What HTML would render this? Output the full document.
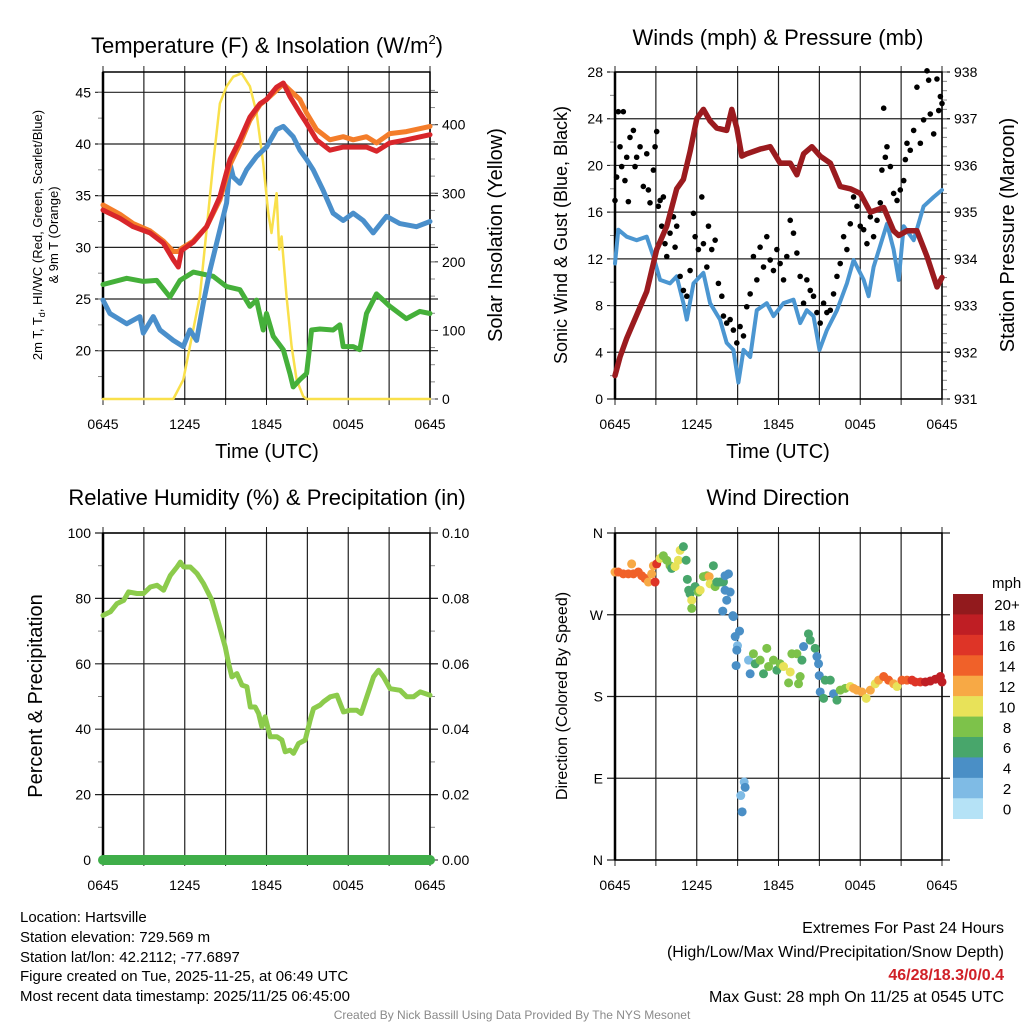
<!DOCTYPE html>
<html><head><meta charset="utf-8">
<style>
html,body{margin:0;padding:0;background:#fff;}
svg{display:block;font-family:"Liberation Sans",Arial,sans-serif;}
</style></head>
<body>
<svg id="fig" width="1024" height="1024" viewBox="0 0 1024 1024" xmlns="http://www.w3.org/2000/svg">
<rect width="1024" height="1024" fill="#fff"/>
<!-- titles -->
<text x="267" y="53" font-size="22" text-anchor="middle">Temperature (F) &amp; Insolation (W/m<tspan font-size="13" dy="-9">2</tspan><tspan dy="9">)</tspan></text>
<text x="778" y="45" font-size="22" text-anchor="middle">Winds (mph) &amp; Pressure (mb)</text>
<text x="267" y="505" font-size="22" text-anchor="middle">Relative Humidity (%) &amp; Precipitation (in)</text>
<text x="778" y="505" font-size="22" text-anchor="middle">Wind Direction</text>
<!-- axis titles -->
<text transform="translate(42,235) rotate(-90)" font-size="13" text-anchor="middle">2m T, T<tspan font-size="9" dy="3">d</tspan><tspan dy="-3">, HI/WC (Red, Green, Scarlet/Blue)</tspan></text>
<text transform="translate(58,235) rotate(-90)" font-size="13" text-anchor="middle">&amp; 9m T (Orange)</text>
<text transform="translate(502,235) rotate(-90)" font-size="20" text-anchor="middle">Solar Insolation (Yellow)</text>
<text x="267" y="458" font-size="20" text-anchor="middle">Time (UTC)</text>
<text transform="translate(567,235) rotate(-90)" font-size="18" text-anchor="middle">Sonic Wind &amp; Gust (Blue, Black)</text>
<text transform="translate(1014,235) rotate(-90)" font-size="20" text-anchor="middle">Station Pressure (Maroon)</text>
<text x="778" y="458" font-size="20" text-anchor="middle">Time (UTC)</text>
<text transform="translate(42,696) rotate(-90)" font-size="20" text-anchor="middle">Percent &amp; Precipitation</text>
<text transform="translate(567,696) rotate(-90)" font-size="16" text-anchor="middle">Direction (Colored By Speed)</text>
<!-- footer -->
<g font-size="15">
<text x="20" y="922">Location: Hartsville</text>
<text x="20" y="942">Station elevation: 729.569 m</text>
<text x="20" y="962">Station lat/lon: 42.2112; -77.6897</text>
<text x="20" y="981">Figure created on Tue, 2025-11-25, at 06:49 UTC</text>
<text x="20" y="1001">Most recent data timestamp: 2025/11/25 06:45:00</text>
</g>
<g font-size="16" text-anchor="end">
<text x="1004" y="933">Extremes For Past 24 Hours</text>
<text x="1004" y="957">(High/Low/Max Wind/Precipitation/Snow Depth)</text>
<text x="1004" y="980" fill="#d02027" font-weight="bold">46/28/18.3/0/0.4</text>
<text x="1004" y="1002">Max Gust: 28 mph On 11/25 at 0545 UTC</text>
</g>
<text x="512" y="1019" font-size="12" fill="#8a8a8a" text-anchor="middle">Created By Nick Bassill Using Data Provided By The NYS Mesonet</text>
</svg>
<script>
// ---------- data ----------
const xTickLabels = ["0645","1245","1845","0045","0645"];
// Panel 1
const redT = [0,1.25,2.22,3.45,4.43,5.16,5.53,5.77,6.63,7.6,8.58,9.32,10.05,10.78,11.52,12,12.74,13.23,13.72,14.45,14.94,15.67,16.65,17.63,18.36,19.34,20.07,21.05,22.27,24];
const redV = [33.6,32.8,32,31.4,30.4,28.8,28.1,29.7,30.5,32,34.9,38.5,40.4,42.6,43.9,44.3,45.5,45.9,44.6,43,42,40.4,39.4,39.7,39.7,39.7,39.3,40.1,40.4,40.9];
const orangeV = [34.1,33.2,32.3,31.6,30.6,29.6,29.6,29.9,30.6,32,34.6,38,40,42.3,43.8,44.3,45.2,45.8,45.2,44.3,43,41.4,40.4,40.7,40.4,40.7,40.1,41,41.2,41.7];
const blueT = [0,0.51,1.74,2.71,2.96,3.69,4.18,5.16,5.89,6.38,6.87,7.36,7.85,8.58,9.07,9.32,9.56,10.05,10.54,11.27,12,12.74,13.23,13.96,14.45,14.94,15.43,16.16,16.89,17.63,18.36,19.1,19.83,20.81,21.78,23.01,24];
const blueV = [24.9,23.6,22.6,23.3,21.7,23.3,22,21,20.4,22,21,24.6,27.8,31.7,34.3,38.1,36.8,36.2,37.5,38.8,39.7,41.4,41.7,40.7,39.4,38.5,37.5,35.5,33.3,32.6,33.3,32.6,31.4,33,32.3,32,32.5];
const greenT = [0,1.74,2.96,3.94,4.91,5.65,6.63,8.09,9.07,10.05,10.78,11.27,11.76,12,12.49,13.23,13.72,13.96,14.45,14.94,15.31,15.92,16.89,17.38,17.63,18.36,18.85,19.34,20.07,21.05,22.27,23.25,24];
const greenV = [26.4,27,26.7,26.8,25.2,26.8,27.6,27.2,26.2,25.9,24.3,24.9,22,23.6,21.4,20.1,17.8,16.5,17.2,17.8,22,22.1,22,22.5,20.4,20.4,20.1,23.6,25.5,24.3,23.1,23.8,23.6];
const solarT = [0,5.16,5.89,7.11,7.6,8.09,8.58,9.07,9.56,10.17,10.78,11.27,11.76,12.13,12.37,12.74,12.93,13.11,13.47,13.84,14.21,14.69,14.94,24];
const solarV = [0,0,28,150,247,344,431,456,470,475,456,417,344,271,242,300,218,237,150,77,28,4,0,0];
// Panel 2
const presT = [0,0.37,0.86,1.59,2.33,3.06,3.8,4.53,5.02,5.51,6,6.49,6.98,7.47,8.2,8.57,8.94,9.31,9.67,10.65,11.39,12.12,12.86,13.35,13.84,14.45,15.06,15.8,16.53,17.27,18,18.74,19.72,20.45,20.82,21.43,22.16,22.9,23.63,24];
const presV = [931.5,931.9,932.3,932.8,933.3,934.2,934.7,935.5,935.7,936.3,937,937.2,936.95,936.8,936.75,937.2,936.8,936.2,936.25,936.35,936.4,936.05,936.05,935.8,936.25,936.4,936.2,936.05,935.55,935.5,935.4,935,935.1,934.6,934.5,934.6,934.6,934.05,933.4,933.6];
const windT = [0,0.24,0.86,1.59,2.33,2.82,3.31,4.04,4.53,5.02,5.27,5.76,6.49,6.98,7.71,8.2,8.69,9.06,9.43,9.92,10.41,11.14,11.63,12.37,13.1,13.59,14.08,14.57,15.01,15.55,16.29,17.02,17.51,18.25,18.61,18.98,19.96,20.45,20.82,21.19,21.92,22.65,23.39,24];
const windV = [11.6,14.5,13.9,13.6,13.9,12.2,10.2,9.9,10.5,8.2,6.8,9.9,10.8,8.2,6.8,4.8,4.2,1.4,4.2,3.6,7.6,8.2,7.1,8.2,8.5,6.5,7.6,7.1,4.2,5.9,7.6,9.9,11.9,10.2,8.8,11.3,15,12.8,10.2,14.8,13.6,16.5,17.3,17.9];
const gustT = [0,0.12,0.24,0.61,0.37,0.49,0.73,0.86,0.98,1.1,1.35,1.47,1.59,1.84,2.08,2.33,2.45,2.57,2.82,2.94,3.06,3.18,3.31,3.43,3.55,3.67,3.8,4.04,4.29,4.41,4.53,4.78,5.02,5.27,5.51,5.76,5.88,6.12,6.37,6.49,6.74,6.86,7.1,7.35,7.59,7.84,7.96,8.2,8.45,8.69,8.94,9.18,9.43,9.67,9.92,10.16,10.41,10.65,10.9,11.14,11.39,11.63,11.88,12.12,12.37,12.61,12.86,13.1,13.35,13.59,13.84,14.08,14.33,14.57,14.82,15.06,15.31,15.55,15.8,16.04,16.29,16.53,16.78,17.02,17.27,17.51,17.76,18,18.25,18.49,18.74,18.98,19.23,19.47,19.59,19.72,19.84,19.96,20.21,20.45,20.7,20.94,21.19,21.31,21.43,21.67,21.92,22.16,22.41,22.65,22.9,23.02,23.14,23.39,23.63,23.76,23.88,24];
const gustV = [17,19,24.6,24.6,21.6,19.9,18.7,20.7,16.9,22.4,23,19.9,20.7,21.6,18.2,21,17.9,16.8,19.6,21.6,22.9,16.5,17,14.8,17.3,13.3,12.2,14.2,15.6,13,14.8,10.5,9.3,8.8,11,15.9,13.9,12.8,17.3,13.3,11.3,14.8,12.8,13.6,9.9,8.8,7.1,6.5,6.8,5.9,4.8,6.2,5.4,7.9,9,12.2,10.2,13,11.3,13.9,11.9,11,12.8,11.6,10.2,12.2,15.3,14.2,12.5,10.5,8.2,10.2,9.3,8.8,7.4,6.5,8.2,7.4,7.6,9,10.5,11.6,13.9,12.8,15,17.3,16.5,14.8,14.5,13.3,15.6,13.9,15.3,16.8,19.6,24.9,20.7,21.6,19.9,17.6,17,17.9,18.7,20.5,21.9,21.3,23,26.7,21.9,23.9,28.1,27.3,24.4,22.7,27.4,24.7,25.9,25.3];
// Panel 3
const rhT = [0,0.54,1.03,1.52,1.88,2.49,2.98,3.47,3.96,4.45,4.94,5.43,5.67,5.92,6.41,6.9,7.38,8,8.49,8.97,9.22,9.46,9.83,10.2,10.56,10.81,11.17,11.42,11.66,11.9,12.27,12.76,13.13,13.37,13.74,13.98,14.35,14.84,15.21,15.45,15.94,16.19,16.68,17.17,17.65,18.14,18.63,18.95,19.36,19.85,20.22,20.59,21.07,21.81,22.3,22.79,23.28,24];
const rhV = [74.8,75.9,78.4,79.4,82,81.5,81.5,83.5,84,82.5,87,89.6,91.1,89.6,89.6,87.6,84.5,79.4,72.3,65.2,60.1,56,57,53.5,53,46.8,46.8,44.8,40.7,43.8,37.7,37.7,36.7,33.1,33.6,32.6,35.6,36.7,42.8,46.3,47.4,48.4,49.9,50.4,45.3,45.8,45.8,44.8,49.9,56,58,56,52.4,51.9,49.9,49.9,51.4,50.4];
const precipT = [0,24];
const precipV = [0,0];
// Panel 4
const dirT = [0,0.24,0.61,0.98,1.22,1.35,1.71,1.96,2.2,2.45,2.69,2.94,2.82,3.06,3.31,3.55,3.8,4.04,4.16,4.41,4.65,4.78,5.02,5.22,5.31,5.41,5.51,5.63,5.63,5.88,6.12,6.25,6.49,6.74,6.91,6.98,7.22,7.35,7.47,7.71,7.96,8.08,8.33,8.08,8.45,8.2,7.91,8.65,8.69,9.14,8.82,8.99,8.94,9.8,8.89,9.92,10.16,10.29,10.65,10.9,11.14,11.27,11.63,11.88,12.12,12.37,12.74,12.86,12.98,13.35,13.59,13.47,13.84,13.72,14.2,14.33,14.69,14.82,14.94,14.99,15.06,15.31,15.43,15.8,16.04,16.29,16.53,16.9,17.27,17.51,17.76,18.12,18.44,18.74,19.1,19.35,19.72,20.08,20.45,20.7,21.06,21.43,21.8,22.04,22.41,22.78,23.14,23.51,23.88,24,9.48,9.55,9.23,9.33];
const dirV = [317,317,315,315,326,315,317,313,310,306,315,306,324,326,332,335,330,324,321,323,330,341,345,330,309,297,293,286,277,301,295,297,312,313,312,304,324,301,306,306,306,313,315,297,295,286,274,269,268,252,246,236,231,220,214,205,227,216,220,205,233,213,220,209,216,213,195,207,227,227,202,194,235,220,249,242,233,224,216,203,185,178,198,198,183,176,187,189,191,189,187,185,178,187,194,198,202,198,194,191,198,198,198,196,196,196,197,199,202,196,86,80,71,53];
const dirS = [12,14,14,14,12,14,14,14,14,12,12,16,12,16,10,8,8,8,6,10,10,10,6,6,6,6,6,10,8,6,8,10,8,8,12,10,6,8,6,6,6,4,4,4,4,4,4,4,4,4,4,2,4,2,4,4,8,6,8,6,8,8,8,6,8,10,8,10,8,8,8,8,4,6,6,6,6,4,4,4,4,6,6,6,4,6,8,8,10,12,12,12,10,12,10,12,14,14,12,10,14,14,16,16,16,18,18,18,18,18,2,4,2,4];
const cbLabels = ["20+","18","16","14","12","10","8","6","4","2","0"];
const cbColors = ["#921a1d","#bf1e24","#de3427","#f06129","#f7a945","#e8e259","#7dc24a","#48a66b","#4a8fc6","#7fbbe5","#b5e2f6"];

// ---------- helpers ----------
const NS="http://www.w3.org/2000/svg";
const svg=document.getElementById('fig');
function mk(tag,attrs,parent){const e=document.createElementNS(NS,tag);for(const k in attrs)e.setAttribute(k,attrs[k]);(parent||svg).appendChild(e);return e;}
function lin(d0,d1,r0,r1){return v=>r0+(v-d0)/(d1-d0)*(r1-r0);}

function frame(name,L,R,T,B,yTicks,yLab,ys,rTicks,rLab,ysR,minorL,minorR,gridY){
  const g=mk('g',{});
  
  
  const xs=lin(0,24,L,R);
  for(let h=0;h<=24;h+=3){
    const x=xs(h);
    const gl=mk('line',{x1:x,x2:x,y1:T,y2:B+(h%6===0?0:0),stroke:'#222','stroke-width':1.2},g);
    
    
    mk('line',{x1:x,x2:x,y1:B,y2:B+6,stroke:'#222','stroke-width':1},g);
    mk('line',{x1:x,x2:x,y1:T,y2:T-6,stroke:'#222','stroke-width':1},g);
  }
  xTickLabels.forEach((s,i)=>{
    const t=mk('text',{x:xs(i*6),y:B+30,'font-size':14,'text-anchor':'middle'},g);t.textContent=s;
    
    
  });
  (gridY||yTicks).forEach(v=>{const y=ys(v);const l=mk('line',{x1:L-8,x2:R+8,y1:y,y2:y,stroke:'#222','stroke-width':1.2},g);
    
    });
  yTicks.forEach((v,i)=>{const t=mk('text',{x:L-12,y:ys(v)+5,'font-size':14,'text-anchor':'end'},g);t.textContent=yLab[i];
    
    });
  if(rTicks){rTicks.forEach((v,i)=>{const y=ysR(v);mk('line',{x1:R,x2:R+8,y1:y,y2:y,stroke:'#222','stroke-width':1},g);
    const t=mk('text',{x:R+12,y:y+5,'font-size':14},g);t.textContent=rLab[i];
    
    });}
  (minorL||[]).forEach(v=>{const y=ys(v);mk('line',{x1:L-5,x2:L,y1:y,y2:y,stroke:'#888','stroke-width':1},g);});
  (minorR||[]).forEach(v=>{const y=ysR(v);mk('line',{x1:R,x2:R+5,y1:y,y2:y,stroke:'#888','stroke-width':1},g);});
  mk('rect',{x:L,y:T,width:R-L,height:B-T,fill:'none',stroke:'#000','stroke-width':1.5},g);
  mk('line',{x1:L,x2:L,y1:T,y2:B,stroke:'#000','stroke-width':2.5},g);
  return xs;
}
function path(xs,ys,T,V,color,w,name){
  let d='';T.forEach((t,i)=>{d+=(i?'L':'M')+xs(t).toFixed(1)+','+ys(V[i]).toFixed(1);});
  const p=mk('path',{d:d,fill:'none',stroke:color,'stroke-width':w,'stroke-linejoin':'round','stroke-linecap':'round'});
  
  
}
function range(a,b,s){const r=[];for(let v=a;v<=b+1e-9;v+=s)r.push(+v.toFixed(3));return r;}

// ---------- panel 1 ----------
{
 const L=103,R=430,T=72,B=399;
 const ys=lin(20,45,350.7,92.3), ysR=lin(0,400,399,124.7);
 const xs=frame('temperature-panel',L,R,T,B,[20,25,30,35,40,45],['20','25','30','35','40','45'],ys,[0,100,200,300,400],['0','100','200','300','400'],ysR,range(17.5,47,2.5),range(0,470,25),[20,25,30,35,40,45]);
 path(xs,ysR,solarT,solarV,'#f9e04b',2.5,'solar-insolation-line');
 path(xs,ys,greenT,greenV,'#45b03a',5,'dewpoint-line');
 path(xs,ys,blueT,blueV,'#4a8fcb',5,'windchill-line');
 path(xs,ys,orangeT=redT,orangeV,'#f47d2a',5,'temp-9m-line');
 path(xs,ys,redT,redV,'#d8262b',5,'temp-2m-line');
}
// ---------- panel 2 ----------
{
 const L=615,R=942,T=72,B=399;
 const ys=lin(0,28,399,72), ysR=lin(931,938,399,72);
 const xs=frame('wind-pressure-panel',L,R,T,B,[0,4,8,12,16,20,24,28],['0','4','8','12','16','20','24','28'],ys,[931,932,933,934,935,936,937,938],['931','932','933','934','935','936','937','938'],ysR,range(2,28,2),range(931,938,0.2),[0,4,8,12,16,20,24,28]);
 path(xs,ys,windT,windV,'#4b96d1',4,'sonic-wind-line');
 gustT.forEach((t,i)=>{const c=mk('circle',{cx:xs(t),cy:ys(gustV[i]),r:2.8,fill:'#000'});
   
   });
 path(xs,ysR,presT,presV,'#9b1b1f',5.5,'pressure-line');
}
// ---------- panel 3 ----------
{
 const L=103,R=430,T=533,B=860;
 const ys=lin(0,100,860,533), ysR=lin(0,0.1,860,533);
 const xs=frame('humidity-panel',L,R,T,B,[0,20,40,60,80,100],['0','20','40','60','80','100'],ys,[0,0.02,0.04,0.06,0.08,0.1],['0.00','0.02','0.04','0.06','0.08','0.10'],ysR,range(10,90,20),range(0.01,0.09,0.02),[20,40,60,80,100]);
 path(xs,ys,rhT,rhV,'#8ccb4c',5,'relative-humidity-line');
 path(xs,ysR,precipT,precipV,'#3fae49',10,'precipitation-line');
}
// ---------- panel 4 ----------
{
 const L=615,R=942,T=533,B=860;
 const ys=lin(0,360,860,533);
 const xs=frame('wind-direction-panel',L,R,T,B,[0,90,180,270,360],['N','E','S','W','N'],ys,null,null,null,null,null,[0,90,180,270,360]);
 const cidx=s=>Math.max(0,Math.min(10,10-Math.floor(s/2)));
 dirT.forEach((t,i)=>{const c=mk('circle',{cx:xs(t),cy:ys(dirV[i]),r:4.5,fill:cbColors[cidx(dirS[i])]});
   
   });
 const cb=mk('g',{});
 
 
 const t0=mk('text',{x:992,y:588,'font-size':15},cb);t0.textContent='mph';
 const bh=(818.7-594)/11;
 cbColors.forEach((c,i)=>{mk('rect',{x:953,y:594+i*bh,width:30,height:bh+0.3,fill:c},cb);
   const t=mk('text',{x:1007,y:594+i*bh+bh/2+6,'font-size':15,'text-anchor':'middle'},cb);t.textContent=cbLabels[i];});
}
</script>
</body></html>
